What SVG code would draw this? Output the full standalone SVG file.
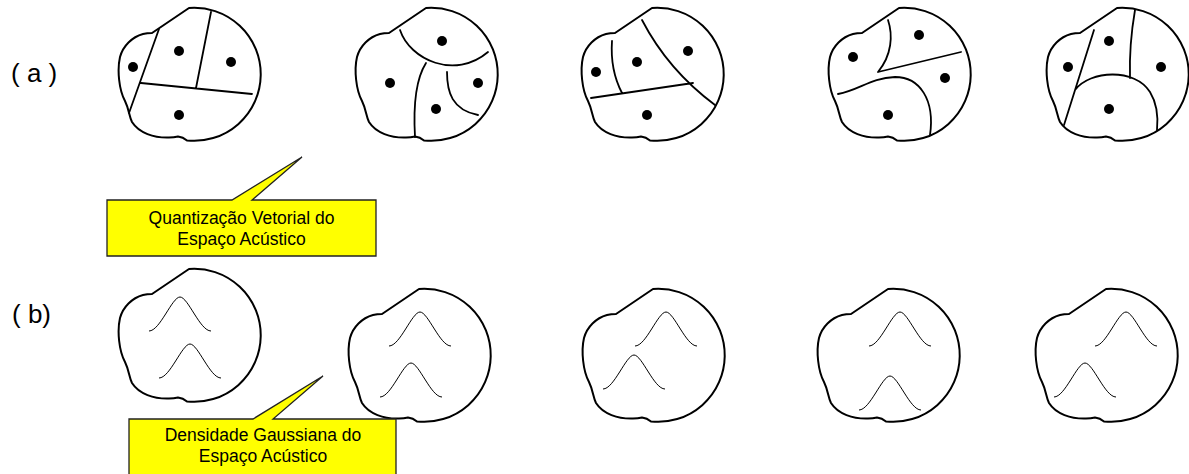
<svg xmlns="http://www.w3.org/2000/svg" xmlns:xlink="http://www.w3.org/1999/xlink" width="1189" height="474" viewBox="0 0 1189 474">
<style>
.blob{fill:#fff;stroke:#000;stroke-width:2;stroke-linejoin:round}
.part{fill:none;stroke:#000;stroke-width:1.8;stroke-linecap:round}
.gauss{fill:none;stroke:#000;stroke-width:1}
.dot{fill:#000}
.lbl{font-family:"Liberation Sans",Arial,sans-serif;font-size:26px;fill:#000}
.call{fill:#ffff00;stroke:#222;stroke-width:1.3}
.ct{font-family:"Liberation Sans",Arial,sans-serif;font-size:17.5px;fill:#000;text-anchor:middle}
</style>
<defs>
<path id="blob" class="blob" d="M0,0 A66.5,66.5 0 1 1 -2,132.4 Q-6,129 -11,128.5 Q-15,129.5 -20,129.5 C-35,130 -50,125 -57,114 C-60,108 -60,101 -64,93 C-70,82 -72,62 -69,49 C-66,38 -57,29 -46,26 C-42,25 -39,25 -37,25 Z"/>
<path id="g" class="gauss" d="M-31,34 C-20,34 -8,0 0,0 C8,0 20,34 31,34"/>
</defs>
<rect width="1189" height="474" fill="#fff"/>
<text class="lbl" x="11" y="82">( a )</text>
<text class="lbl" x="12" y="323">( b)</text>

<g id="a1">
<use xlink:href="#blob" x="189" y="8"/>
<path class="part" d="M159,29 L129,113 M211,12 L196,88 M141,83 L252,94"/>
<circle class="dot" cx="179" cy="51" r="5"/><circle class="dot" cx="231" cy="62" r="5"/><circle class="dot" cx="133" cy="67" r="5"/><circle class="dot" cx="179" cy="115" r="5"/>
</g>
<g id="a2">
<use xlink:href="#blob" x="426" y="8"/>
<path class="part" d="M400,30 C410,60 455,80 488,52 M426,63 Q412,85 415,137 M447,72 C447,92 452,110 478,115"/>
<circle class="dot" cx="442" cy="41" r="5"/><circle class="dot" cx="390" cy="83" r="5"/><circle class="dot" cx="478" cy="83" r="5"/><circle class="dot" cx="436" cy="109" r="5"/>
</g>
<g id="a3">
<use xlink:href="#blob" x="652" y="8"/>
<path class="part" d="M612,41 Q610,70 622,93 M591,98 L693,83 M642,20 Q668,70 715,105"/>
<circle class="dot" cx="596" cy="72" r="5"/><circle class="dot" cx="637" cy="62" r="5"/><circle class="dot" cx="688" cy="51" r="5"/><circle class="dot" cx="647" cy="115" r="5"/>
</g>
<g id="a4">
<use xlink:href="#blob" x="899" y="8"/>
<path class="part" d="M888,20 C893,35 892,55 878,72 M961,52 L878,72 M838,94 C860,90 870,78 895,77 C920,77 935,100 930,135"/>
<circle class="dot" cx="853" cy="57" r="5"/><circle class="dot" cx="919" cy="35" r="5"/><circle class="dot" cx="945" cy="78" r="5"/><circle class="dot" cx="888" cy="115" r="5"/>
</g>
<g id="a5">
<use xlink:href="#blob" x="1117" y="8"/>
<path class="part" d="M1094,30 L1064,125 M1135,10 Q1129,45 1130,78 M1075,90 C1090,70 1135,68 1150,92 C1158,105 1158,120 1157,130"/>
<circle class="dot" cx="1109" cy="41" r="5"/><circle class="dot" cx="1068" cy="67" r="5"/><circle class="dot" cx="1161" cy="67" r="5"/><circle class="dot" cx="1109" cy="109" r="5"/>
</g>

<g id="b1">
<use xlink:href="#blob" x="189" y="269"/>
<use xlink:href="#g" x="180" y="297"/><use xlink:href="#g" x="190" y="344"/>
</g>
<g id="b2">
<use xlink:href="#blob" x="419" y="289"/>
<use xlink:href="#g" x="420" y="312"/><use xlink:href="#g" x="411" y="363"/>
</g>
<g id="b3">
<use xlink:href="#blob" x="653" y="289"/>
<use xlink:href="#g" x="666" y="312"/><use xlink:href="#g" x="634" y="355"/>
</g>
<g id="b4">
<use xlink:href="#blob" x="888" y="289"/>
<use xlink:href="#g" x="900" y="312"/><use xlink:href="#g" x="890" y="376"/>
</g>
<g id="b5">
<use xlink:href="#blob" x="1106" y="289"/>
<use xlink:href="#g" x="1126" y="312"/><use xlink:href="#g" x="1085" y="363"/>
</g>

<g id="callout1">
<path class="call" d="M107,200 H232 L302,157 L252,200 H376 V256 H107 Z"/>
<text class="ct" x="241.5" y="223.5">Quantização Vetorial do</text>
<text class="ct" x="241.5" y="244.5">Espaço Acústico</text>
</g>
<g id="callout2">
<path class="call" d="M129,419 H253 L323,376 L273,419 H396 V480 H129 Z"/>
<text class="ct" x="263" y="441">Densidade Gaussiana do</text>
<text class="ct" x="263" y="462">Espaço Acústico</text>
</g>
</svg>
